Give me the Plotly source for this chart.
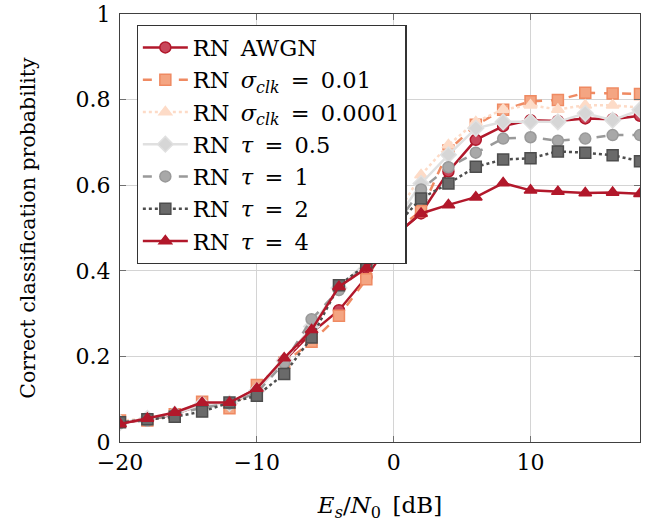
import plotly.graph_objects as go

# Es/N0 grid in dB
snr_db = [-20, -18, -16, -14, -12, -10, -8, -6, -4, -2, 0, 2, 4, 6, 8, 10, 12, 14, 16, 18]

# Correct classification probability per configuration
p_awgn = [0.045, 0.052, 0.065, 0.088, 0.090, 0.125, 0.190, 0.255, 0.308, 0.385, 0.480,
          0.534, 0.632, 0.706, 0.738, 0.752, 0.750, 0.756, 0.754, 0.762]
p_clk_001 = [0.050, 0.050, 0.065, 0.094, 0.079, 0.133, 0.185, 0.234, 0.295, 0.380, 0.490,
             0.540, 0.681, 0.741, 0.776, 0.796, 0.799, 0.816, 0.814, 0.813]
p_clk_00001 = [0.050, 0.055, 0.068, 0.090, 0.090, 0.125, 0.190, 0.265, 0.360, 0.420, 0.520,
               0.624, 0.694, 0.748, 0.777, 0.787, 0.777, 0.787, 0.787, 0.781]
p_tau_05 = [0.045, 0.055, 0.065, 0.088, 0.090, 0.120, 0.190, 0.270, 0.360, 0.420, 0.510,
            0.604, 0.671, 0.733, 0.748, 0.748, 0.748, 0.768, 0.752, 0.776]
p_tau_1 = [0.045, 0.050, 0.065, 0.080, 0.090, 0.115, 0.185, 0.287, 0.355, 0.415, 0.500,
           0.590, 0.642, 0.676, 0.709, 0.712, 0.704, 0.709, 0.717, 0.717]
p_tau_2 = [0.046, 0.053, 0.059, 0.071, 0.092, 0.108, 0.159, 0.244, 0.366, 0.414, 0.500,
           0.569, 0.604, 0.643, 0.660, 0.663, 0.679, 0.676, 0.670, 0.656]
p_tau_4 = [0.042, 0.055, 0.069, 0.092, 0.092, 0.125, 0.196, 0.262, 0.363, 0.406, 0.480,
           0.534, 0.554, 0.572, 0.605, 0.588, 0.585, 0.582, 0.583, 0.580]

SP = "\u2002"  # wider gap between words and around relations, as in math typesetting
series_names = [
    f"RN{SP}AWGN",
    f"RN{SP}<i>σ</i><sub><i>clk</i></sub>{SP}={SP}0.01",
    f"RN{SP}<i>σ</i><sub><i>clk</i></sub>{SP}={SP}0.0001",
    f"RN{SP}<i>τ</i>{SP}={SP}0.5",
    f"RN{SP}<i>τ</i>{SP}={SP}1",
    f"RN{SP}<i>τ</i>{SP}={SP}2",
    f"RN{SP}<i>τ</i>{SP}={SP}4",
]
series_values = [p_awgn, p_clk_001, p_clk_00001, p_tau_05, p_tau_1, p_tau_2, p_tau_4]

# (line colour, marker fill, dash, symbol)
styles = [
    ("#b2182b", "#c8475b", "solid", "circle"),
    ("#ef8a62", "#f4a582", "dash", "square"),
    ("#fddbc7", "#fddbc7", "dot", "triangle-up"),
    ("#e0e0e0", "#d6d6d6", "solid", "diamond"),
    ("#999999", "#a8a8a8", "dash", "circle"),
    ("#4d4d4d", "#6a6a6a", "dot", "square"),
    ("#b2182b", "#b2182b", "solid", "triangle-up"),
]

FONT = "DejaVu Serif"

fig = go.Figure()
for i, (name, vals, (lc, fc, dash, sym)) in enumerate(zip(series_names, series_values, styles)):
    fig.add_trace(go.Scatter(
        x=snr_db, y=vals, name=name, mode="lines+markers",
        legendgroup=f"g{i}",
        line=dict(color=lc, width=2.5, dash=dash),
        marker=dict(symbol=sym, size=11 if sym != "diamond" else 12, color=fc,
                    line=dict(color=lc, width=1.5)),
    ))

axis_common = dict(
    showline=True, linecolor="#404040", linewidth=1.2, mirror="allticks",
    ticks="inside", ticklen=6, tickcolor="#707070", tickwidth=1,
    showgrid=True, gridcolor="#d4d4d4", gridwidth=1, zeroline=False,
    tickfont=dict(family=FONT, size=22, color="black"),
    automargin=False,
)

fig.update_xaxes(
    range=[-20, 18], tickvals=[-20, -10, 0, 10], ticktext=["−20", "−10", "0", "10"],
    title=dict(text="<i>E</i><sub><i>s</i></sub>/<i>N</i><sub>0</sub>\u2002[dB]",
               font=dict(family=FONT, size=23, color="black"), standoff=24),
    **axis_common,
)
fig.update_yaxes(
    range=[0, 1], tickvals=[0, 0.2, 0.4, 0.6, 0.8, 1], ticktext=["0", "0.2", "0.4", "0.6", "0.8", "1"],
    title=dict(text="Correct classification probability",
               font=dict(family=FONT, size=20.5, color="black"), standoff=34),
    ticklabelstandoff=4,
    **axis_common,
)

fig.update_layout(
    width=660, height=522,
    margin=dict(l=120, r=20, t=14, b=80),
    plot_bgcolor="white", paper_bgcolor="white",
    font=dict(family=FONT, color="black"),
    legend=dict(
        x=0.032, y=0.974, xanchor="left", yanchor="top",
        bgcolor="white", bordercolor="#333333", borderwidth=1.2,
        font=dict(family=FONT, size=22.5, color="black"),
        itemwidth=45, tracegroupgap=0, traceorder="normal",
    ),
    showlegend=True,
)

fig.write_html("out.html")
